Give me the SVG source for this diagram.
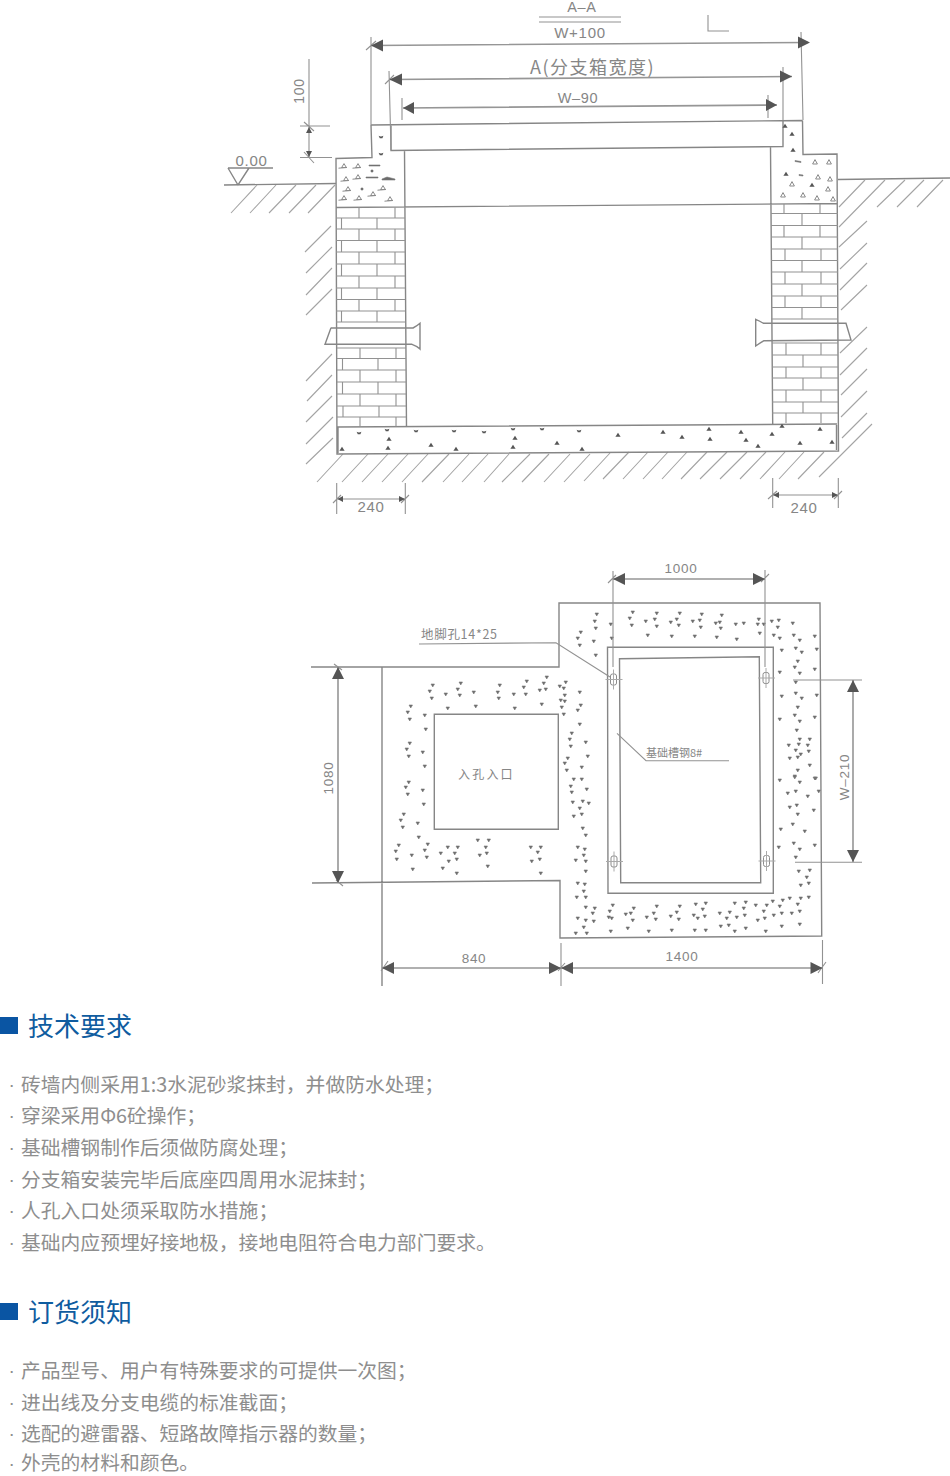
<svg xmlns="http://www.w3.org/2000/svg" width="950" height="1476" viewBox="0 0 950 1476">
<style>
.l{fill:none;stroke:#868686;stroke-width:1.4}
.t{fill:none;stroke:#929292;stroke-width:1.1}
.h{fill:none;stroke:#a4a4a4;stroke-width:1.1}
.d{fill:none;stroke:#969696;stroke-width:1.6}
.a{fill:#555;stroke:none}
.s{fill:#6a6a6a;stroke:#7a7a7a;stroke-width:.6;stroke-linejoin:round}
.lb{font-family:"Liberation Sans","Noto Sans CJK SC",sans-serif;fill:#868686;text-anchor:middle;letter-spacing:.7px}
.cn{font-family:"Noto Sans CJK SC","Liberation Sans",sans-serif;fill:#868686}
.hd{font-family:"Noto Sans CJK SC",sans-serif;font-size:26px;fill:#0f5c9f}
.bd{font-family:"Noto Sans CJK SC","Liberation Sans",sans-serif;font-size:19.8px;fill:#8e8e8e}
.bu{font-family:"Liberation Sans",sans-serif;font-size:19px;fill:#8e8e8e}
</style>
<defs>
<path id="f" d="M-2.6 1.8L0-2.2L2.6 1.8Z" fill="#555"/>
<path id="c" d="M-2.4-1.2Q0 0 2.4-1.2L1.4 1.2H-1.2Z" fill="#555"/>
<path id="o" d="M-2.4 1.6L0-2.4L2.4 1.6ZM-5.5 2.2L3 1.4" fill="none" stroke="#8a8a8a" stroke-width="1"/>
<path id="r" d="M-2.4 2L0-2.4L2.4 2Z" fill="none" stroke="#8a8a8a" stroke-width="1"/>
<g id="b"><rect x="-3" y="-5.5" width="6" height="11" rx="2" fill="none" stroke="#8c8c8c"/><path d="M-8 0H9M0-10V10" fill="none" stroke="#aaa"/></g>
</defs>

<g id="section-aa">
<g id="ground">
<path class="l" d="M224 185L336 183.5M838 179.5L950 178M228 168H273M228 168L238 185L249 168"/>
<path class="h" d="M231 213L257 185M250 213L276 185M269 213L296 185M289 213L316 185M308 213L335 185
M331 226L305 252M332 247L306 273M332 268L306 295M332 289L306 315M332 354L306 381M332 375L307 401M332 396L306 422M333 417L306 444M333 438L306 464
M865 180L839 207M885 180L839 227M905 180L877 207M924 180L897 207M943 180L917 207M867 221L839 247M867 243L840 269M867 263L840 290M867 285L841 310M867 327L840 353M867 348L840 375M867 369L841 395M867 391L841 417M867 413L842 438M872 424L819 477
M343 454L317 482M368 454L342 482M388 454L362 482M408 454L382 482M428 454L402 482M449 454L422 482M469 454L443 482M488 454L462 482M509 454L484 482M530 454L502 482M549 454L522 482M570 454L544 482M590 454L564 482M610 453L584 481
M629 452L603 479M648 452L623 479M668 452L643 479M687 452L662 479M707 452L681 479M727 452L700 479M747 452L720 479M766 452L740 479M785 452L760 479M804 452L779 479M824 452L798 479"/>
</g>
<g id="walls">
<path class="l" d="M371 125L802.5 120.5M371 125L372 157.5L336 158.5L337 454L838.5 451L837 154L803 154.5L802.5 120.5M391 125V150.5L783 146.5V120.5M404.5 150L406.5 426M770.5 147L772.7 424M336 207.5L837 203.5M338 427V453M836.5 425V450M337 427L837 424"/>
</g>
<g id="bricks">
<path class="t" d="M336 218H405M336 229H405M336 240.5H405M336 252H405M336 264H405M336 276H405M336 288H405M336 299.5H405M336 311H405M336 322H405M337 348H406M337 358.5H406M337 370H406M337 382H406M337 394H406M337 406H406M337 417H406
M359 207.5V218M395 207.5V218M341.5 218V229M377 218V229M359 229V240.5M395 229V240.5M341.5 240.5V252M377 240.5V252M359 252V264M395 252V264M341.5 264V276M377 264V276M359 276V288M395 276V288M341.5 288V299.5M377 288V299.5M359 299.5V311M395 299.5V311M341.5 311V322M377 311V322M360 348V358.5M396 348V358.5M342.5 358.5V370M378 358.5V370M360 370V382M396 370V382M342.5 382V394M378 382V394M360 394V406M396 394V406M343 406V417M379 406V417M360 417V426.5M396 417V426.5
M771 213.5H838M771 225.5H838M771 237H838M771 249H838M771 260.5H838M771 272H838M771 284H838M771 296H838M771 307.5H838M771 319H838M772 343H838M772 355H838M772 367H838M772 378H838M772 390H838M772 402H838M772 413H838
M784 204V213.5M820 204V213.5M802 213.5V225.5M784 225.5V237M820 225.5V237M802 237V249M785 249V260.5M821 249V260.5M802 260.5V272M785 272V284M821 272V284M802 284V296M785 296V307.5M821 296V307.5M802 307.5V319M786 343V355M821 343V355M803 355V367M786 367V378M821 367V378M803 378V390M786 390V402M821 390V402M803 402V413M786 413V423M821 413V423"/>
</g>
<g id="pipes">
<path class="l" d="M331 327.7L325 344.3H412Q417 346 420 349V323.3Q417 326 413 328H331ZM846 323.3L851 340L764 340.7Q760 343 755.7 346V319.3Q760 321 763.3 323.3H846Z"/>
</g>
<g id="concrete">
<use href="#o" x="344" y="166"/><use href="#o" x="358" y="166"/><use href="#o" x="346" y="179"/><use href="#o" x="358" y="177"/><use href="#o" x="348" y="189"/><use href="#o" x="344" y="198"/><use href="#o" x="359" y="198"/><use href="#o" x="373" y="194"/><use href="#o" x="383" y="188"/><use href="#o" x="390" y="199"/>
<path class="s" d="M369 165H380V166H369ZM371 170h2v2h-2ZM366 177H378V178H366ZM382 179L387 177L395 179V180H382ZM361 188h2v2h-2Z"/>
<use href="#c" x="381" y="137"/><use href="#c" x="381" y="154"/>
<use href="#r" x="815" y="162"/><use href="#r" x="829" y="162"/><use href="#r" x="818" y="177"/><use href="#r" x="830" y="179"/><use href="#r" x="792" y="184"/><use href="#r" x="828" y="189"/><use href="#r" x="783" y="195"/><use href="#r" x="803" y="195"/><use href="#r" x="817" y="198"/><use href="#r" x="833" y="199"/>
<use href="#f" x="785" y="126"/><use href="#f" x="792" y="134"/><use href="#f" x="793" y="150"/><use href="#f" x="786" y="174"/><use href="#f" x="812" y="185"/>
<path class="s" d="M795 160.5L801 161.5V162.5L795 161.5ZM799 174.5L803 175V176L799 175.5Z"/>
<use href="#f" x="342" y="449"/><use href="#f" x="388" y="448"/><use href="#f" x="389" y="439"/><use href="#f" x="431" y="445"/><use href="#f" x="456" y="449"/><use href="#f" x="513" y="447"/><use href="#f" x="515" y="438"/><use href="#f" x="557" y="443"/><use href="#f" x="582" y="449"/>
<use href="#c" x="359" y="433"/><use href="#c" x="387" y="430"/><use href="#c" x="416" y="431"/><use href="#c" x="454" y="431"/><use href="#c" x="484" y="432"/><use href="#c" x="513" y="429"/><use href="#c" x="542" y="429"/><use href="#c" x="579" y="431"/>
<use href="#f" x="618" y="435"/><use href="#f" x="663" y="432"/><use href="#f" x="682" y="437"/><use href="#f" x="709" y="429"/><use href="#f" x="710" y="439"/><use href="#f" x="741" y="432"/><use href="#f" x="746" y="440"/><use href="#f" x="758" y="446"/><use href="#f" x="772" y="434"/><use href="#f" x="782" y="426"/><use href="#f" x="800" y="443"/><use href="#f" x="820" y="429"/><use href="#f" x="832" y="442"/>
</g>
<g id="section-dims">
<path class="d" d="M371 45.5L808 42.5M389 79.5L792 76.5M403 108L777 105"/>
<path class="t" d="M539 17H621M539 22H621M708 15V31H729M371 37V125M801 32L803 120M389 71L391 150M783 67V120M402 98V120M768 95V118M366 50L376 41M385 84L394 75M309 59V158M300 126H330M300 157.5H332M304 122L314 131M304 152L314 163M336.7 483V514M405.3 483V514M337 499H405M333 503L341 495M401 503L409 495M772.7 478V508M838.3 478V508M773 495H838M768 499L777 491M834 499L842 491"/>
<path class="a" d="M371 45.5L383 39.5V51.5ZM810 42.5L798 36.5V48.5ZM389.5 79.5L402 73.5V85.5ZM792 76.5L780 70.5V82.5ZM403 108L414 102V114ZM777 105L766 99V111ZM309 127L312 133H306ZM309 157L306 151H312ZM337.5 499L343 496V502ZM405 499L399 496V502ZM773 495L779 492V498ZM838 495L832 492V498Z"/>
<text class="lb" x="582" y="12" font-size="14.5">A–A</text>
<text class="lb" x="580" y="38" font-size="15">W+100</text>
<text class="cn" x="530" y="74" font-size="18" letter-spacing="1.5">A(分支箱宽度)</text>
<text class="lb" x="578" y="103" font-size="14.5">W–90</text>
<text class="lb" x="251.5" y="166" font-size="15">0.00</text>
<text class="lb" transform="translate(303.500 91) rotate(-90)" font-size="14">100</text>
<text class="lb" x="371" y="512" font-size="15">240</text>
<text class="lb" x="804" y="512.5" font-size="15">240</text>
</g>
</g>

<g id="plan">
<g id="plan-outline">
<path class="l" d="M311 667H559V603H820L821.7 936L560 938V880.5L312 883M382 667V986M434.3 714.3H558.3V829.3H434.3ZM607.5 647.3H773.3V893.3H608ZM619.5 658.7L759.3 656.7L760.7 882.7H620.7Z"/>
</g>
<g id="plan-aggregate">
<path class="s" d="M431 684h3.5l-1.75 3zM428 690h3.5l-1.75 3zM430 697h3.5l-1.75 3zM444 693h3.5l-1.75 3zM446 707h3.5l-1.75 3zM459 682h3.5l-1.75 3zM456 688h3.5l-1.75 3zM458 694h3.5l-1.75 3zM472 691h3.5l-1.75 3zM474 705h3.5l-1.75 3zM498 684h3.5l-1.75 3zM496 691h3.5l-1.75 3zM497 697h3.5l-1.75 3zM512 693h3.5l-1.75 3zM513 707h3.5l-1.75 3zM525 680h3.5l-1.75 3zM522 686h3.5l-1.75 3zM524 693h3.5l-1.75 3zM545 676h3.5l-1.75 3zM542 682h3.5l-1.75 3zM538 689h3.5l-1.75 3zM544 688h3.5l-1.75 3zM540 703h3.5l-1.75 3zM558 685h3.5l-1.75 3zM564 681h3.5l-1.75 3zM562 687h3.5l-1.75 3zM563 694h3.5l-1.75 3zM578 691h3.5l-1.75 3zM559 699h3.5l-1.75 3zM563 700h3.5l-1.75 3zM560 706h3.5l-1.75 3zM579 704h3.5l-1.75 3zM576 709h3.5l-1.75 3zM562 713h3.5l-1.75 3zM578 723h3.5l-1.75 3zM570 732h3.5l-1.75 3zM568 738h3.5l-1.75 3zM569 745h3.5l-1.75 3zM584 741h3.5l-1.75 3zM566 757h3.5l-1.75 3zM563 762h3.5l-1.75 3zM586 755h3.5l-1.75 3zM565 769h3.5l-1.75 3zM580 766h3.5l-1.75 3zM572 778h3.5l-1.75 3zM580 778h3.5l-1.75 3z
M409 705h3.5l-1.75 3zM406 711h3.5l-1.75 3zM408 718h3.5l-1.75 3zM423 714h3.5l-1.75 3zM424 728h3.5l-1.75 3zM408 742h3.5l-1.75 3zM405 748h3.5l-1.75 3zM407 755h3.5l-1.75 3zM421 751h3.5l-1.75 3zM423 765h3.5l-1.75 3zM407 781h3.5l-1.75 3zM404 786h3.5l-1.75 3zM406 793h3.5l-1.75 3zM421 789h3.5l-1.75 3zM422 803h3.5l-1.75 3zM402 813h3.5l-1.75 3zM399 819h3.5l-1.75 3zM401 826h3.5l-1.75 3zM416 822h3.5l-1.75 3zM417 836h3.5l-1.75 3zM426 843h3.5l-1.75 3zM423 849h3.5l-1.75 3zM425 856h3.5l-1.75 3zM397 844h3.5l-1.75 3zM394 850h3.5l-1.75 3zM395 858h3.5l-1.75 3zM410 854h3.5l-1.75 3zM411 868h3.5l-1.75 3zM446 846h3.5l-1.75 3zM456 846h3.5l-1.75 3zM439 852h3.5l-1.75 3zM453 852h3.5l-1.75 3zM447 860h3.5l-1.75 3zM455 858h3.5l-1.75 3zM441 867h3.5l-1.75 3zM455 872h3.5l-1.75 3zM476 839h3.5l-1.75 3zM487 839h3.5l-1.75 3zM484 846h3.5l-1.75 3zM485 852h3.5l-1.75 3zM478 854h3.5l-1.75 3zM486 865h3.5l-1.75 3zM529 846h3.5l-1.75 3zM539 846h3.5l-1.75 3zM536 851h3.5l-1.75 3zM538 858h3.5l-1.75 3zM530 860h3.5l-1.75 3zM539 872h3.5l-1.75 3z
M569 785h3.5l-1.75 3zM570 791h3.5l-1.75 3zM585 788h3.5l-1.75 3zM571 801h3.5l-1.75 3zM581 800h3.5l-1.75 3zM587 802h3.5l-1.75 3zM578 807h3.5l-1.75 3zM572 815h3.5l-1.75 3zM580 813h3.5l-1.75 3zM581 827h3.5l-1.75 3zM584 834h3.5l-1.75 3zM576 846h3.5l-1.75 3zM583 848h3.5l-1.75 3zM582 854h3.5l-1.75 3zM574 859h3.5l-1.75 3zM584 860h3.5l-1.75 3zM584 870h3.5l-1.75 3zM576 882h3.5l-1.75 3zM583 883h3.5l-1.75 3zM582 890h3.5l-1.75 3zM575 896h3.5l-1.75 3zM584 896h3.5l-1.75 3zM584 906h3.5l-1.75 3zM576 917h3.5l-1.75 3zM584 919h3.5l-1.75 3zM582 926h3.5l-1.75 3zM574 932h3.5l-1.75 3zM585 932h3.5l-1.75 3z
M593 907h3.5l-1.75 3zM591 912h3.5l-1.75 3zM592 920h3.5l-1.75 3zM611 904h3.5l-1.75 3zM608 910h3.5l-1.75 3zM607 916h3.5l-1.75 3zM610 917h3.5l-1.75 3zM609 930h3.5l-1.75 3zM632 907h3.5l-1.75 3zM629 912h3.5l-1.75 3zM624 913h3.5l-1.75 3zM631 919h3.5l-1.75 3zM626 927h3.5l-1.75 3zM655 905h3.5l-1.75 3zM652 912h3.5l-1.75 3zM645 916h3.5l-1.75 3zM654 918h3.5l-1.75 3zM647 930h3.5l-1.75 3zM678 905h3.5l-1.75 3zM675 911h3.5l-1.75 3zM669 915h3.5l-1.75 3zM677 918h3.5l-1.75 3zM670 929h3.5l-1.75 3zM694 903h3.5l-1.75 3zM704 902h3.5l-1.75 3zM701 908h3.5l-1.75 3zM692 914h3.5l-1.75 3zM696 917h3.5l-1.75 3zM703 915h3.5l-1.75 3zM693 929h3.5l-1.75 3zM704 929h3.5l-1.75 3zM718 912h3.5l-1.75 3zM733 902h3.5l-1.75 3zM728 911h3.5l-1.75 3zM725 917h3.5l-1.75 3zM735 916h3.5l-1.75 3zM719 925h3.5l-1.75 3zM727 924h3.5l-1.75 3zM733 930h3.5l-1.75 3zM744 901h3.5l-1.75 3zM742 907h3.5l-1.75 3zM743 914h3.5l-1.75 3zM744 927h3.5l-1.75 3zM754 904h3.5l-1.75 3zM765 904h3.5l-1.75 3zM762 910h3.5l-1.75 3zM756 919h3.5l-1.75 3zM763 917h3.5l-1.75 3zM772 914h3.5l-1.75 3zM764 930h3.5l-1.75 3zM771 900h3.5l-1.75 3zM778 905h3.5l-1.75 3zM781 899h3.5l-1.75 3zM780 912h3.5l-1.75 3zM780 925h3.5l-1.75 3zM788 897h3.5l-1.75 3zM796 903h3.5l-1.75 3zM799 897h3.5l-1.75 3zM790 912h3.5l-1.75 3zM798 910h3.5l-1.75 3zM798 923h3.5l-1.75 3zM807 896h3.5l-1.75 3zM797 870h3.5l-1.75 3zM808 869h3.5l-1.75 3zM805 876h3.5l-1.75 3zM807 882h3.5l-1.75 3zM799 884h3.5l-1.75 3zM779 828h3.5l-1.75 3zM791 823h3.5l-1.75 3zM803 830h3.5l-1.75 3zM792 842h3.5l-1.75 3zM798 848h3.5l-1.75 3zM777 846h3.5l-1.75 3zM794 856h3.5l-1.75 3zM813 844h3.5l-1.75 3zM788 806h3.5l-1.75 3zM795 804h3.5l-1.75 3zM796 813h3.5l-1.75 3zM812 809h3.5l-1.75 3zM786 792h3.5l-1.75 3zM794 790h3.5l-1.75 3zM806 795h3.5l-1.75 3zM817 790h3.5l-1.75 3zM778 779h3.5l-1.75 3zM793 775h3.5l-1.75 3zM798 781h3.5l-1.75 3zM813 777h3.5l-1.75 3z
M595 613h3.5l-1.75 3zM593 620h3.5l-1.75 3zM594 627h3.5l-1.75 3zM609 623h3.5l-1.75 3zM610 637h3.5l-1.75 3zM579 631h3.5l-1.75 3zM576 637h3.5l-1.75 3zM578 644h3.5l-1.75 3zM592 640h3.5l-1.75 3zM594 654h3.5l-1.75 3zM631 611h3.5l-1.75 3zM628 617h3.5l-1.75 3zM630 624h3.5l-1.75 3zM644 620h3.5l-1.75 3zM646 634h3.5l-1.75 3zM655 612h3.5l-1.75 3zM653 618h3.5l-1.75 3zM655 625h3.5l-1.75 3zM669 621h3.5l-1.75 3zM670 635h3.5l-1.75 3zM678 612h3.5l-1.75 3zM675 618h3.5l-1.75 3zM677 624h3.5l-1.75 3zM691 620h3.5l-1.75 3zM693 635h3.5l-1.75 3zM700 613h3.5l-1.75 3zM698 619h3.5l-1.75 3zM699 626h3.5l-1.75 3zM714 622h3.5l-1.75 3zM715 636h3.5l-1.75 3zM720 614h3.5l-1.75 3zM718 621h3.5l-1.75 3zM719 627h3.5l-1.75 3zM734 623h3.5l-1.75 3zM735 638h3.5l-1.75 3zM742 622h3.5l-1.75 3zM757 618h3.5l-1.75 3zM756 623h3.5l-1.75 3zM762 623h3.5l-1.75 3zM758 632h3.5l-1.75 3zM770 620h3.5l-1.75 3zM777 619h3.5l-1.75 3zM776 626h3.5l-1.75 3zM791 622h3.5l-1.75 3zM772 634h3.5l-1.75 3zM778 637h3.5l-1.75 3zM792 634h3.5l-1.75 3zM798 639h3.5l-1.75 3zM813 635h3.5l-1.75 3zM815 648h3.5l-1.75 3zM780 649h3.5l-1.75 3zM794 647h3.5l-1.75 3zM800 651h3.5l-1.75 3zM796 660h3.5l-1.75 3zM793 666h3.5l-1.75 3zM798 672h3.5l-1.75 3zM813 668h3.5l-1.75 3zM778 671h3.5l-1.75 3zM794 681h3.5l-1.75 3zM780 695h3.5l-1.75 3zM794 692h3.5l-1.75 3zM800 697h3.5l-1.75 3zM815 694h3.5l-1.75 3zM796 706h3.5l-1.75 3zM793 714h3.5l-1.75 3zM798 720h3.5l-1.75 3zM813 716h3.5l-1.75 3zM778 718h3.5l-1.75 3zM795 729h3.5l-1.75 3zM808 738h3.5l-1.75 3zM798 738h3.5l-1.75 3zM806 744h3.5l-1.75 3zM787 744h3.5l-1.75 3zM797 743h3.5l-1.75 3zM794 749h3.5l-1.75 3zM807 750h3.5l-1.75 3zM799 753h3.5l-1.75 3zM788 757h3.5l-1.75 3zM796 756h3.5l-1.75 3zM808 764h3.5l-1.75 3zM796 769h3.5l-1.75 3zM793 776h3.5l-1.75 3zM814 777h3.5l-1.75 3z"/>
</g>
<g id="plan-bolts">
<use href="#b" x="613.5" y="679.5"/><use href="#b" x="766" y="678"/><use href="#b" x="614" y="861.5"/><use href="#b" x="766.5" y="861"/>
</g>
<g id="plan-dims">
<path class="d" d="M613 579H765M338 667V883M853 680V862M382 968H561M561 968H822.5"/>
<path class="t" d="M613 571V667M765 570V667M793 680H862M795 862.3H862M561 943V986M822.5 940V984M419 644L556 642.7L610 677M617 733.3L646 760.7H729M608 583L616 575M761 582L769 574M334 664L342 670M336 880L343 886M381 971L388 961M558 971L565 963M818 973L826 962"/>
<path class="a" d="M613 579L625 573V585ZM765 579L753 573V585ZM338 667L332 679H344ZM338 883L332 871H344ZM853 680L847 692H859ZM853 862L847 850H859ZM382 968L394 962V974ZM561 968L549 962V974ZM561 968L573 962V974ZM822.5 968L810.5 962V974Z"/>
<text class="lb" x="681" y="573" font-size="13.5">1000</text>
<text class="lb" transform="translate(332.500 778) rotate(-90)" font-size="13.5">1080</text>
<text class="lb" transform="translate(849 777) rotate(-90)" font-size="13.5">W–210</text>
<text class="lb" x="474" y="962.5" font-size="13.5">840</text>
<text class="lb" x="682" y="961" font-size="13.5">1400</text>
<text class="cn" x="421" y="639" font-size="12.5" letter-spacing=".7">地脚孔14*25</text>
<text class="cn" x="646" y="757" font-size="11">基础槽钢8#</text>
<text class="cn" x="458" y="779" font-size="12" letter-spacing="2.2">入孔入口</text>
</g>
</g>

<g id="tech-requirements">
<rect x="0" y="1017" width="18" height="17" fill="#0a55a3"/>
<text class="hd" x="28" y="1036">技术要求</text>
<text class="bu" x="8.500" y="1091">·</text><text class="bd" x="21" y="1092">砖墙内侧采用1:3水泥砂浆抹封，并做防水处理；</text>
<text class="bu" x="8.500" y="1122">·</text><text class="bd" x="21" y="1123">穿梁采用Φ6砼操作；</text>
<text class="bu" x="8.500" y="1154">·</text><text class="bd" x="21" y="1155">基础槽钢制作后须做防腐处理；</text>
<text class="bu" x="8.500" y="1186">·</text><text class="bd" x="21" y="1187">分支箱安装完毕后底座四周用水泥抹封；</text>
<text class="bu" x="8.500" y="1217">·</text><text class="bd" x="21" y="1218">人孔入口处须采取防水措施；</text>
<text class="bu" x="8.500" y="1249">·</text><text class="bd" x="21" y="1250">基础内应预埋好接地极，接地电阻符合电力部门要求。</text>
</g>

<g id="ordering">
<rect x="0" y="1303" width="18" height="17" fill="#0a55a3"/>
<text class="hd" x="28" y="1322">订货须知</text>
<text class="bu" x="8.500" y="1377">·</text><text class="bd" x="21" y="1378">产品型号、用户有特殊要求的可提供一次图；</text>
<text class="bu" x="8.500" y="1409">·</text><text class="bd" x="21" y="1410">进出线及分支电缆的标准截面；</text>
<text class="bu" x="8.500" y="1440">·</text><text class="bd" x="21" y="1441">选配的避雷器、短路故障指示器的数量；</text>
<text class="bu" x="8.500" y="1470">·</text><text class="bd" x="21" y="1470.300">外壳的材料和颜色。</text>
</g>
</svg>
